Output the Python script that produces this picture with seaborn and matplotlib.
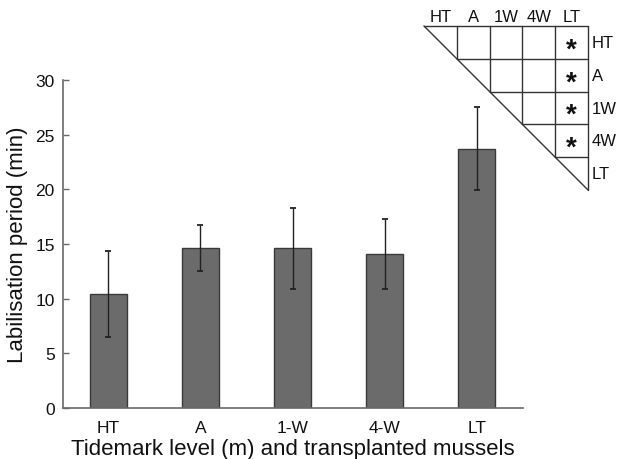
import matplotlib
matplotlib.use('Agg')
import matplotlib.pyplot as plt
import seaborn as sns
import pandas as pd

# ---- data ----
categories = ['HT', 'A', '1-W', '4-W', 'LT']
means = [10.4, 14.65, 14.6, 14.1, 23.7]
errors = [3.95, 2.1, 3.7, 3.2, 3.8]
yticks = [0, 5, 10, 15, 20, 25, 30]

inset_labels = ['HT', 'A', '1W', '4W', 'LT']
significant = [('HT', 'LT'), ('A', 'LT'), ('1W', 'LT'), ('4W', 'LT')]

sns.set_theme(style='ticks')
plt.rcParams['font.family'] = ['Liberation Sans', 'DejaVu Sans']

W, H = 624, 460
fig = plt.figure(figsize=(W / 100, H / 100), dpi=100)
fig.patch.set_facecolor('white')
ax = fig.add_axes([63 / W, 1 - 409 / H, (523 - 63) / W, (409 - 81) / H])

df = pd.DataFrame({'group': categories, 'value': means})
sns.barplot(data=df, x='group', y='value', color='#6b6b6b', width=0.4,
            edgecolor='#3a3a3a', linewidth=1.0, saturation=1, ax=ax)
ax.errorbar(range(len(categories)), means, yerr=errors, fmt='none',
            ecolor='#222222', elinewidth=1.0, capsize=2.5, capthick=1.3,
            zorder=5)

ax.set_xlim(-0.49, 4.5)
ax.set_ylim(0, 30)
ax.set_yticks(yticks)
ax.set_facecolor('white')
for s in ['top', 'right']:
    ax.spines[s].set_visible(False)
for s in ['left', 'bottom']:
    ax.spines[s].set_color('#6a6a6a')
    ax.spines[s].set_linewidth(1.2)
ax.tick_params(axis='y', direction='in', length=4, width=1.0,
               color='#6a6a6a', labelsize=12.5, pad=6, labelcolor='#111111')
ax.tick_params(axis='x', length=0, labelsize=12.5, pad=9, labelcolor='#111111')
ax.set_ylabel('Labilisation period (min)', fontsize=16, labelpad=5,
              color='#111111')
ax.set_xlabel('Tidemark level (m) and transplanted mussels', fontsize=16,
              labelpad=2, color='#111111')

# ---- inset significance triangle ----
ov = fig.add_axes([0, 0, 1, 1], zorder=10)
ov.set_xlim(0, W)
ov.set_ylim(H, 0)
ov.axis('off')
ov.patch.set_alpha(0)

n = len(inset_labels)
x0, y0, c = 424, 27, 32.8
lc, lw = '#333333', 1.0
for i in range(n):
    ov.plot([x0 + i * c, x0 + n * c], [y0 + i * c, y0 + i * c], color=lc, lw=lw)
for j in range(n):
    ov.plot([x0 + (j + 1) * c, x0 + (j + 1) * c], [y0, y0 + (j + 1) * c],
            color=lc, lw=lw)
ov.plot([x0, x0 + n * c], [y0, y0 + n * c], color=lc, lw=lw)

for j, lab in enumerate(inset_labels):
    ov.text(x0 + (j + 0.5) * c, y0 - 2.5, lab, ha='center', va='bottom',
            fontsize=12, color='#111111')
    ov.text(x0 + n * c + 4, y0 + (j + 0.5) * c, lab, ha='left', va='center',
            fontsize=12, color='#111111')

for r, col in significant:
    i = inset_labels.index(r)
    j = inset_labels.index(col)
    ov.text(x0 + (j + 0.5) * c, y0 + (i + 0.5) * c + 7, '*', ha='center',
            va='center', fontsize=20, fontweight='bold', color='#111111')

fig.savefig('out.png', dpi=100, facecolor='white')
